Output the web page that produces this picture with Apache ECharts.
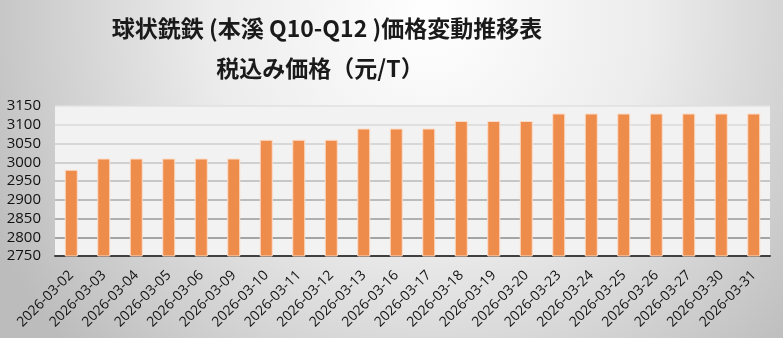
<!DOCTYPE html>
<html><head><meta charset="utf-8">
<script src="https://cdn.jsdelivr.net/npm/echarts@6/dist/echarts.min.js"></script>
<style>html,body{margin:0;padding:0;}#c{width:783px;height:338px;}</style>
</head><body><div id="c"></div>
<script>
const categories = ['2026-03-02','2026-03-03','2026-03-04','2026-03-05','2026-03-06','2026-03-09','2026-03-10','2026-03-11','2026-03-12','2026-03-13','2026-03-16','2026-03-17','2026-03-18','2026-03-19','2026-03-20','2026-03-23','2026-03-24','2026-03-25','2026-03-26','2026-03-27','2026-03-30','2026-03-31'];
const prices = [2980,3010,3010,3010,3010,3010,3060,3060,3060,3090,3090,3090,3110,3110,3110,3130,3130,3130,3130,3130,3130,3130];
const titleText = '球状銑鉄 (本溪 Q10-Q12 )価格変動推移表';
const subtitleText = '税込み価格（元/T）';
const yMin = 2750, yMax = 3150, yStep = 50;

const chart = echarts.init(document.getElementById('c'), null, {renderer:'canvas'});
chart.setOption({
  animation:false,
  backgroundColor:{type:'radial',x:0.55,y:0.05,r:1.45,colorStops:[{offset:0,color:'#ffffff'},{offset:0.45,color:'#ececec'},{offset:1,color:'#bcbcbc'}]},
  title:[
    {text:titleText,left:322,top:12,textAlign:'center',textStyle:{fontFamily:'Noto Sans CJK JP',fontSize:23,fontWeight:'bold',color:'#1a1a1a'}},
    {text:subtitleText,left:315,top:52,textAlign:'center',textStyle:{fontFamily:'Noto Sans CJK JP',fontSize:23,fontWeight:'bold',color:'#1a1a1a'}}
  ],
  grid:{left:55,right:13,top:106,bottom:82,show:true,backgroundColor:'#f2f2f2',borderWidth:0},
  xAxis:{type:'category',data:categories,
    axisLine:{lineStyle:{color:'#404040',width:2}},
    axisTick:{show:false},
    axisLabel:{rotate:45,margin:17,interval:0,fontFamily:'Open Sans',fontSize:14,color:'#111'}},
  yAxis:{type:'value',min:yMin,max:yMax,interval:yStep,
    axisLine:{show:false},axisTick:{show:false},
    axisLabel:{fontFamily:'Open Sans',fontSize:15,color:'#111',margin:14,formatter:v=>String(v)},
    splitLine:{lineStyle:{width:1.5,color:['#808080','#8a8a8a','#9a9a9a','#aaaaaa','#b8b8b8','#c4c4c4','#cfcfcf','#d8d8d8','#e0e0e0']}}},
  series:[{type:'bar',data:prices,barWidth:13,
    itemStyle:{color:'#ee8c4b',borderColor:'#fbdcc8',borderWidth:1}}]
});
</script></body></html>
